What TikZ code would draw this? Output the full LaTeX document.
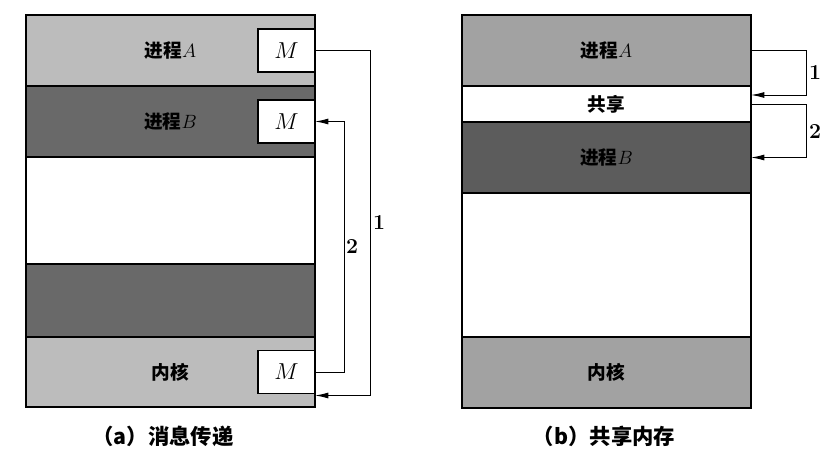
\documentclass[tikz,border=0pt]{standalone}
\usepackage{fontspec}
\newfontfamily\cjk{Noto Sans CJK SC}
\usetikzlibrary{arrows.meta}
\usetikzlibrary{positioning}
\usetikzlibrary{calc}
\usepackage{xcolor}

\definecolor{lightA}{RGB}{188,188,188}
\definecolor{darkA}{RGB}{105,105,105}
\definecolor{lightB}{RGB}{162,162,162}
\definecolor{darkB}{RGB}{92,92,92}

\begin{document}
\begin{tikzpicture}[x=0.75pt,y=0.75pt,yscale=-1,xscale=1,
  band/.style={draw, line width=1.2pt, inner sep=0pt, outer sep=0pt, minimum width=216.75pt, font=\cjk\bfseries\fontsize{14}{16}\selectfont},
  mbox/.style={draw, fill=white, line width=1pt, minimum width=42.75pt, minimum height=32.25pt, inner sep=0pt, outer sep=0pt, anchor=east, font=\fontsize{16}{18}\selectfont},
  flow/.style={line width=0.75pt, -{Latex[length=10pt,width=4.5pt]}},
  num/.style={font=\fontsize{16}{18}\selectfont\bfseries, inner sep=0.75pt},
  captext/.style={font=\cjk\bfseries\fontsize{16}{18}\selectfont, inner sep=0.75pt}]
\useasboundingbox (0,0) rectangle (838,461);

% (a) message passing
\node[band, fill=lightA, minimum height=53.25pt, anchor=north west] (aA) at (26,15) {进程$A$};
\node[band, fill=darkA, minimum height=53.25pt, below=0pt of aA] (aB) {进程$B$};
\node[band, fill=white, minimum height=80.25pt, below=0pt of aB] (aF) {};
\node[band, fill=darkA, minimum height=54.75pt, below=0pt of aF] (aD) {};
\node[band, fill=lightA, minimum height=52.5pt, below=0pt of aD] (aK) {内核};
\draw[line width=1.6pt] (aA.north west) rectangle (aK.south east);

\node[mbox] (mA) at (aA.east) {$M$};
\node[mbox] (mB) at (aB.east) {$M$};
\node[mbox] (mK) at (aK.east) {$M$};

\draw[flow] (mA.east) -- ++(55,0) |- ([yshift=1.5pt]mK.south east);
\draw[flow] (mK.east) -- ++(29,0) |- (mB.east);
\node[num] (n1) at (379,222) {1};
\node[num] (n2) at (352,246) {2};

\node[captext] (capA) at (163,436) {（a）消息传递};

% (b) shared memory
\node[band, fill=lightB, minimum height=53.25pt, anchor=north west] (bA) at (462,15) {进程$A$};
\node[band, fill=white, minimum height=27pt, below=0pt of bA] (bS) {共享};
\node[band, fill=darkB, minimum height=53.25pt, below=0pt of bS] (bB) {进程$B$};
\node[band, fill=white, minimum height=108pt, below=0pt of bB] (bF) {};
\node[band, fill=lightB, minimum height=53.25pt, below=0pt of bF] (bK) {内核};
\draw[line width=1.6pt] (bA.north west) rectangle (bK.south east);

\draw[flow] (bA.east) -- ++(55,0) |- ($(bS.north east)!.25!(bS.south east)$);
\draw[flow] (bS.east) -- ++(55,0) |- (bB.east);
\node[num] (n3) at (815,72) {1};
\node[num] (n4) at (815,131) {2};

\node[captext] (capB) at (604,436) {（b）共享内存};
\end{tikzpicture}
\end{document}
